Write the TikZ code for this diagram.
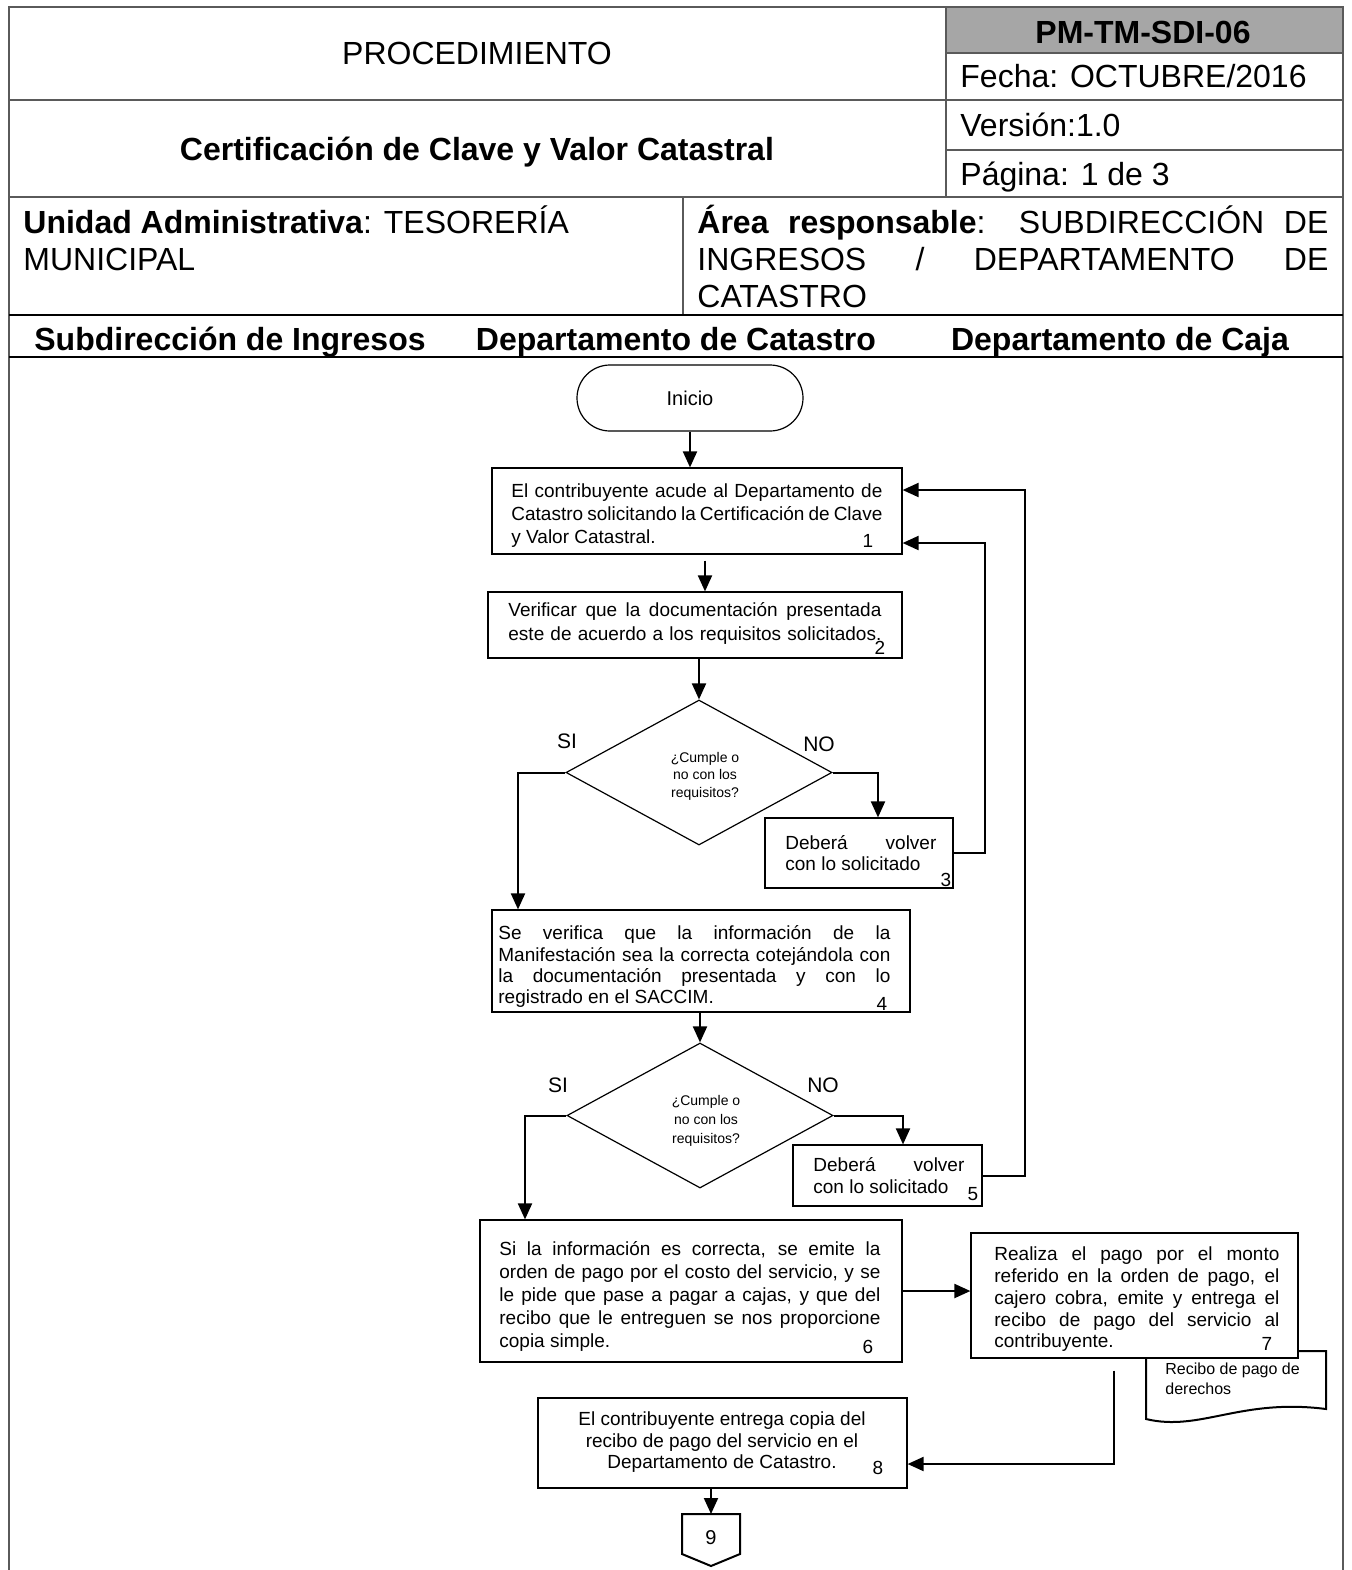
\documentclass[tikz,border=0pt]{standalone}
\usepackage{fontspec}
\setmainfont{Liberation Sans}
\usetikzlibrary{arrows.meta,shapes.geometric,shapes.misc,fit}
\newlength\pxu \setlength\pxu{0.5pt}
\newcommand\jl[2]{\makebox[#1\pxu][s]{#2}}
\newcommand\tstr{\rule{0pt}{1em}}
\definecolor{hdrgray}{RGB}{166,166,166}
\definecolor{linegray}{RGB}{90,90,90}
\tikzset{
  hline/.style={draw=linegray, line width=1pt},
  kline/.style={draw=black, line width=1.4pt},
  box/.style={draw, line width=0.6pt, inner sep=0pt, fill=white},
  txt/.style={inner sep=0pt, anchor=north west, align=left},
  hdr/.style={font=\fontsize{16}{18.5}\selectfont, inner sep=0pt},
  num/.style={font=\fontsize{9.5}{11}\selectfont, inner sep=0pt},
  lbl/.style={font=\fontsize{10.5}{12}\selectfont, inner sep=0pt},
  arr/.style={line width=1pt, -{Triangle[length=8pt,width=7pt]}},
  conn/.style={line width=1pt},
  dec/.style={diamond, draw, line width=0.6pt, minimum width=133pt, minimum height=72.5pt, inner sep=0pt},
}
\begin{document}
\begin{tikzpicture}[x=0.5pt,y=-0.5pt]
\useasboundingbox (0,0) rectangle (1351,1570);
% ---------- header ----------
\fill[hdrgray] (946,7) rectangle (1343,53);
\draw[hline] (9,1580) -- (9,7) -- (1343,7) -- (1343,1580);
\draw[hline] (9,100) -- (1343,100);
\draw[hline] (946,53) -- (1343,53);
\draw[hline] (946,150) -- (1343,150);
\draw[hline] (9,197) -- (1343,197);
\draw[hline] (946,7) -- (946,197);
\draw[hline] (683,197) -- (683,315);
\draw[kline] (9,315) -- (1343,315);
\draw[kline] (9,357) -- (1343,357);

\node[hdr, anchor=base] (hproc) at (477,64.6) {PROCEDIMIENTO};
\node[hdr, anchor=base, font=\fontsize{16}{18.5}\selectfont\bfseries] (htit) at (477,160.6) {Certificación de Clave y Valor Catastral};
\node[hdr, anchor=base, font=\fontsize{16}{18.5}\selectfont\bfseries] (hcode) at (1143,43.6) {PM-TM-SDI-06};
\node[hdr, anchor=base west] (hfecha) at (960,87.6) {Fecha: OCTUBRE/2016};
\node[hdr, anchor=base west] (hver) at (960,136.6) {Versión:1.0};
\node[hdr, anchor=base west] (hpag) at (960,185.6) {Página: 1 de 3};
\node[hdr, txt] (hunidad) at (23,200.6) {\tstr\textbf{Unidad Administrativa}: TESORERÍA\\MUNICIPAL};
\node[hdr, txt] (harea) at (697,200.6) {\tstr\jl{631}{\textbf{Área responsable}: SUBDIRECCIÓN DE}\\\jl{631}{INGRESOS / DEPARTAMENTO DE}\\CATASTRO};
\node[hdr, anchor=base, font=\fontsize{16}{18.5}\selectfont\bfseries] (lane1) at (230,350.6) {Subdirección de Ingresos};
\node[hdr, anchor=base, font=\fontsize{16}{18.5}\selectfont\bfseries] (lane2) at (676,350.6) {Departamento de Catastro};
\node[hdr, anchor=base, font=\fontsize{16}{18.5}\selectfont\bfseries] (lane3) at (1120,350.6) {Departamento de Caja};

% ---------- shapes ----------
\node[rounded rectangle, draw, line width=0.6pt, minimum width=113pt, minimum height=33pt, inner sep=0pt, font=\fontsize{10}{12}\selectfont] (ini) at (690,398) {Inicio};
\node[box, fit={(492,468) (902,554)}] (b1) {};
\node[box, fit={(488,592) (902,658)}] (b2) {};
\node[dec] (d1) at (699,772.5) {};
\node[box, fit={(765,818) (953,888)}] (b3) {};
\node[box, fit={(492,910) (910,1012)}] (b4) {};
\node[dec] (d2) at (700,1115.5) {};
\node[box, fit={(793,1145) (982,1206)}] (b5) {};
\node[box, fit={(480,1220) (902,1362)}] (b6) {};
% document symbol behind box 7
\draw[line width=1pt] (1146,1340) -- (1146,1419) .. controls (1200,1432) and (1240,1398) .. (1326,1409) -- (1326,1351) -- (1290,1351);
\node[box, fit={(971,1233) (1298,1358)}] (b7) {};
\node[box, fit={(538,1398) (907,1488)}] (b8) {};
\draw[line width=1pt] (682,1514) -- (740,1514) -- (740,1554) -- (711,1566) -- (682,1554) -- cycle;

% ---------- texts ----------
\node[txt, font=\fontsize{9.5}{11.5}\selectfont] (t1) at (511,478.3) {\tstr\jl{371}{El contribuyente acude al Departamento de}\\\jl{371}{Catastro solicitando la Certificación de Clave}\\y Valor Catastral.};
\node[num] (n1) at (868,541) {1};
\node[txt, font=\fontsize{9.5}{12}\selectfont] (t2) at (508,597.3) {\tstr\jl{373}{Verificar que la documentación presentada}\\\jl{373}{este de acuerdo a los requisitos solicitados.}};
\node[num] (n2) at (880,648) {2};
\node[anchor=north, inner sep=0pt, align=center, font=\fontsize{7}{8.75}\selectfont] (td1) at (705,747.6) {\tstr¿Cumple o\\no con los\\requisitos?};
\node[lbl] (si1) at (567,741) {SI};
\node[lbl] (no1) at (819,744) {NO};
\node[txt, font=\fontsize{9.5}{10.5}\selectfont] (t3) at (785,830.3) {\tstr\jl{151}{Deberá volver}\\con lo solicitado};
\node[num] (n3) at (946,880) {3};
\node[txt, font=\fontsize{9.5}{10.65}\selectfont] (t4) at (498,920.3) {\tstr\jl{392}{Se verifica que la información de la}\\\jl{392}{Manifestación sea la correcta cotejándola con}\\\jl{392}{la documentación presentada y con lo}\\registrado en el SACCIM.};
\node[num] (n4) at (882,1004) {4};
\node[anchor=north, inner sep=0pt, align=center, font=\fontsize{7}{9.5}\selectfont] (td2) at (706,1090.6) {\tstr¿Cumple o\\no con los\\requisitos?};
\node[lbl] (si2) at (558,1085) {SI};
\node[lbl] (no2) at (823,1085) {NO};
\node[txt, font=\fontsize{9.5}{11}\selectfont] (t5) at (813,1152.3) {\tstr\jl{151}{Deberá volver}\\con lo solicitado};
\node[num] (n5) at (973,1194) {5};
\node[txt, font=\fontsize{9.5}{11.5}\selectfont] (t6) at (499,1236.3) {\tstr\jl{381}{Si la información es correcta, se emite la}\\\jl{381}{orden de pago por el costo del servicio, y se}\\\jl{381}{le pide que pase a pagar a cajas, y que del}\\\jl{381}{recibo que le entreguen se nos proporcione}\\copia simple.};
\node[num] (n6) at (868,1347) {6};
\node[txt, font=\fontsize{9.5}{10.9}\selectfont] (t7) at (994,1241.3) {\tstr\jl{285}{Realiza el pago por el monto}\\\jl{285}{referido en la orden de pago, el}\\\jl{285}{cajero cobra, emite y entrega el}\\\jl{285}{recibo de pago del servicio al}\\contribuyente.};
\node[num] (n7) at (1267,1344) {7};
\node[txt, font=\fontsize{8}{10}\selectfont] (tdoc) at (1165,1358.3) {\tstr Recibo de pago de\\derechos};
\node[anchor=north, inner sep=0pt, align=center, font=\fontsize{9.5}{10.75}\selectfont] (t8) at (722,1406.3) {\tstr El contribuyente entrega copia del\\recibo de pago del servicio en el\\Departamento de Catastro.};
\node[num] (n8) at (878,1468) {8};
\node[font=\fontsize{10}{12}\selectfont, inner sep=0pt] (c9) at (711,1538) {9};

% ---------- connectors ----------
\coordinate (xa) at (705,0);
\coordinate (xs1) at (518,0);
\coordinate (xn1) at (878,0);
\coordinate (r1) at (985,543);
\coordinate (r2) at (1025,490);
\coordinate (xs2) at (525,0);
\coordinate (xn2) at (903,0);
\coordinate (r3) at (1114,1464);
\coordinate (x9) at (711,1514);

\draw[arr] (ini.south) -- (ini.south |- b1.north);
\draw[arr] (b1.south -| xa) ++(0,6) -- (b2.north -| xa);
\draw[arr] (b2.south -| d1.north) -- (d1.north);
\draw[arr] (d1.west) -| (xs1 |- b4.north);
\draw[arr] (d1.east) -| (xn1 |- b3.north);
\draw[arr] (b3.east) -| (r1) -- (b1.east |- r1);
\draw[arr] (b5.east) -| (r2) -- (b1.east |- r2);
\draw[arr] (b4.south -| d2.north) -- (d2.north);
\draw[arr] (d2.west) -| (xs2 |- b6.north);
\draw[arr] (d2.east) -| (xn2 |- b5.north);
\draw[arr] (b6.east) -- (b6.east -| b7.west);
\draw[arr] (b7.south -| r3) ++(0,12) -- (r3) -- (b8.east |- r3);
\draw[arr] (b8.south -| x9) -- (x9);
\end{tikzpicture}
\end{document}
